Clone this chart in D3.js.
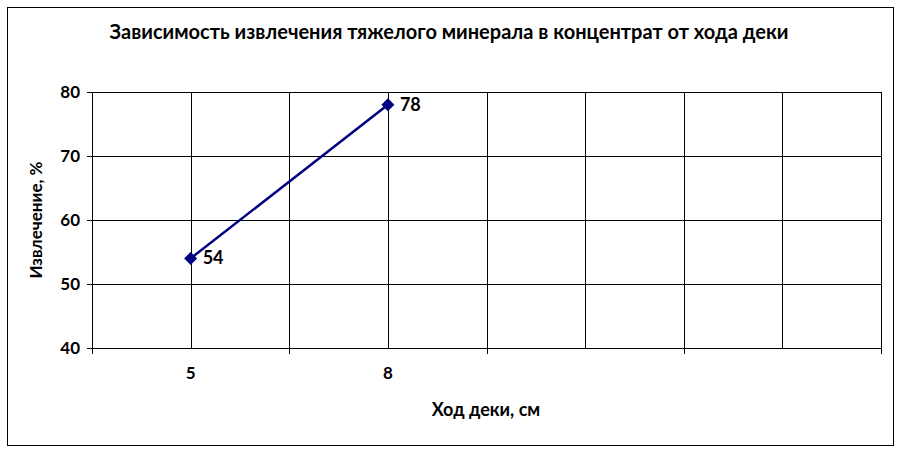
<!DOCTYPE html>
<html><head><meta charset="utf-8">
<script src="https://cdn.jsdelivr.net/npm/d3@7"></script>
<style>body{margin:0;background:#fff}svg{display:block}text{font-family:Lato,"DejaVu Sans",sans-serif;font-weight:bold;fill:#000}</style>
</head><body>
<script>
const title = "Зависимость извлечения тяжелого минерала в концентрат от хода деки";
const xTitle = "Ход деки, см";
const yTitle = "Извлечение, %";
const categories = ["5", "8", "c3", "c4"];
const categoryLabels = ["5", "8", "", ""];
const values = [54, 78];
const yTicks = [40, 50, 60, 70, 80];

const W = 901, H = 452;
const m = {left: 92, right: 881, top: 92, bottom: 348};
const svg = d3.select("body").append("svg").attr("width", W).attr("height", H);
svg.append("rect").attr("x", 7.5).attr("y", 7.5).attr("width", 886).attr("height", 438)
  .attr("fill", "#fff").attr("stroke", "#000").attr("stroke-width", 1);

const x = d3.scaleBand().domain(categories).range([m.left, m.right]).padding(0);
const y = d3.scaleLinear().domain([40, 80]).range([m.bottom, m.top]);

const g = svg.append("g");
g.selectAll("line.h").data(yTicks).join("line")
  .attr("x1", m.left).attr("x2", m.right)
  .attr("y1", d => Math.round(y(d)) + 0.5).attr("y2", d => Math.round(y(d)) + 0.5)
  .attr("stroke", "#000");
const bounds = categories.map(c => x(c)).concat([m.right]);
const centers = categories.map(c => x(c) + x.bandwidth() / 2);
g.selectAll("line.v").data(bounds.concat(centers)).join("line")
  .attr("x1", d => Math.round(d) + 0.5).attr("x2", d => Math.round(d) + 0.5)
  .attr("y1", m.top).attr("y2", m.bottom)
  .attr("stroke", "#000");
g.selectAll("line.xt").data(bounds).join("line")
  .attr("x1", d => Math.round(d) + 0.5).attr("x2", d => Math.round(d) + 0.5)
  .attr("y1", m.bottom).attr("y2", m.bottom + 6).attr("stroke", "#000");
g.selectAll("line.yt").data(yTicks).join("line")
  .attr("x1", m.left - 5).attr("x2", m.left)
  .attr("y1", d => Math.round(y(d)) + 0.5).attr("y2", d => Math.round(y(d)) + 0.5)
  .attr("stroke", "#000");
g.selectAll("text.yl").data(yTicks).join("text")
  .attr("x", m.left - 12).attr("y", d => y(d) + 6).attr("text-anchor", "end")
  .style("font-size", "17px").text(d => d);
g.selectAll("text.xl").data(categories).join("text")
  .attr("x", d => x(d) + x.bandwidth() / 2).attr("y", 379).attr("text-anchor", "middle")
  .style("font-size", "17px").text((d, i) => categoryLabels[i]);

const pts = values.map((v, i) => [x(categories[i]) + x.bandwidth() / 2, y(v)]);
svg.append("path").attr("d", d3.line()(pts)).attr("fill", "none")
  .attr("stroke", "#000080").attr("stroke-width", 2.5);
svg.selectAll("path.mk").data(pts).join("path")
  .attr("transform", d => `translate(${d[0]},${d[1]})`)
  .attr("d", "M0,-6.5L6.5,0L0,6.5L-6.5,0Z").attr("fill", "#000080");
svg.selectAll("text.dl").data(values).join("text")
  .attr("x", (d, i) => pts[i][0] + 12).attr("y", (d, i) => pts[i][1] + 6)
  .style("font-size", "18px").text(d => d);

svg.append("text").attr("x", 449).attr("y", 39).attr("text-anchor", "middle")
  .style("font-size", "20px").text(title);
svg.append("text").attr("x", 486).attr("y", 416).attr("text-anchor", "middle")
  .style("font-size", "18px").text(xTitle);
svg.append("text").attr("transform", "translate(42,220) rotate(-90)").attr("text-anchor", "middle")
  .style("font-size", "17px").text(yTitle);
</script>
</body></html>
